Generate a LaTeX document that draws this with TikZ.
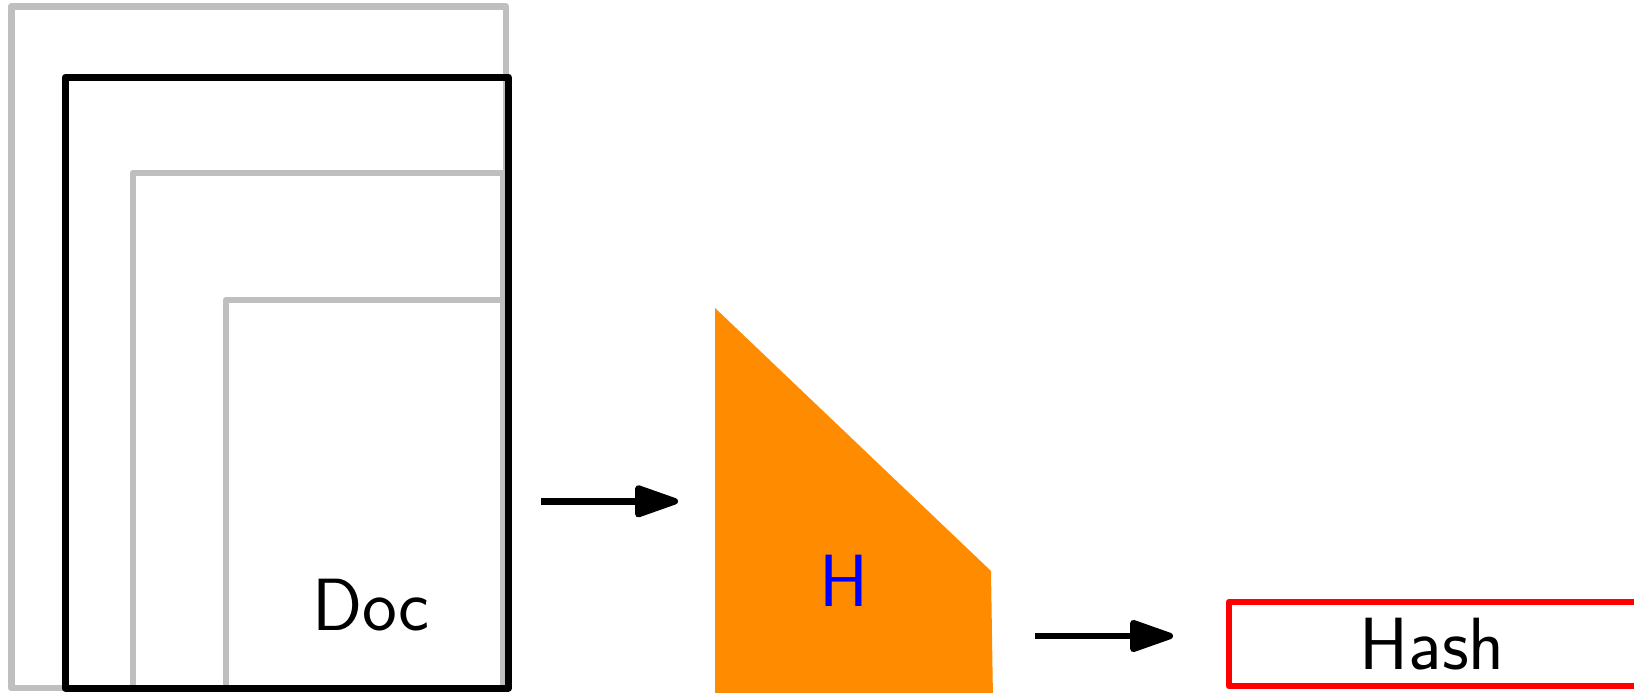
\documentclass[tikz,border=0pt]{standalone}
\usetikzlibrary{arrows.meta}
\definecolor{pagegray}{RGB}{191,191,191}
\definecolor{hashorange}{RGB}{255,140,0}
\begin{document}
\begin{tikzpicture}[x=1pt,y=-1pt,line join=round,
  pageline/.style={draw=pagegray,line width=6.5pt},
  docline/.style={draw=black,line width=7pt},
  flow/.style={draw=black,line width=6.5pt,-{Triangle[length=50pt,width=33pt,round]}},
  bigtext/.style={font=\sffamily\fontsize{74}{88}\selectfont,inner sep=0pt}]
\useasboundingbox (0,0) rectangle (1634,693);
% stacked pages
\draw[pageline] (11.3,6.3) rectangle (506,688);
\draw[pageline] (133,173) rectangle (503,688);
\draw[pageline] (226,300) rectangle (503,688);
\node[docline,minimum width=443pt,minimum height=611pt,inner sep=0pt] (doc) at (286.7,382.6) {};
\node[bigtext,anchor=base] (doctext) at (371,630) {Doc};
% hash function shape
\fill[hashorange] (715,308) -- (991,571) -- (993,700) -- (715,700) -- cycle;
\node[bigtext,text=blue,anchor=base] (H) at (844,606) {H};
% result
\node[draw=red,line width=6.5pt,minimum width=414pt,minimum height=84pt,inner sep=0pt] (hash) at (1436,644) {};
\node[bigtext,anchor=base] (hashtext) at (1432,669) {Hash};
% arrows
\coordinate (a1s) at (541,501.3);
\coordinate (a1e) at (678,501.3);
\coordinate (a2s) at (1035,636);
\coordinate (a2e) at (1173,636);
\draw[flow] (a1s) -- (a1e);
\draw[flow] (a2s) -- (a2e);
\end{tikzpicture}
\end{document}
